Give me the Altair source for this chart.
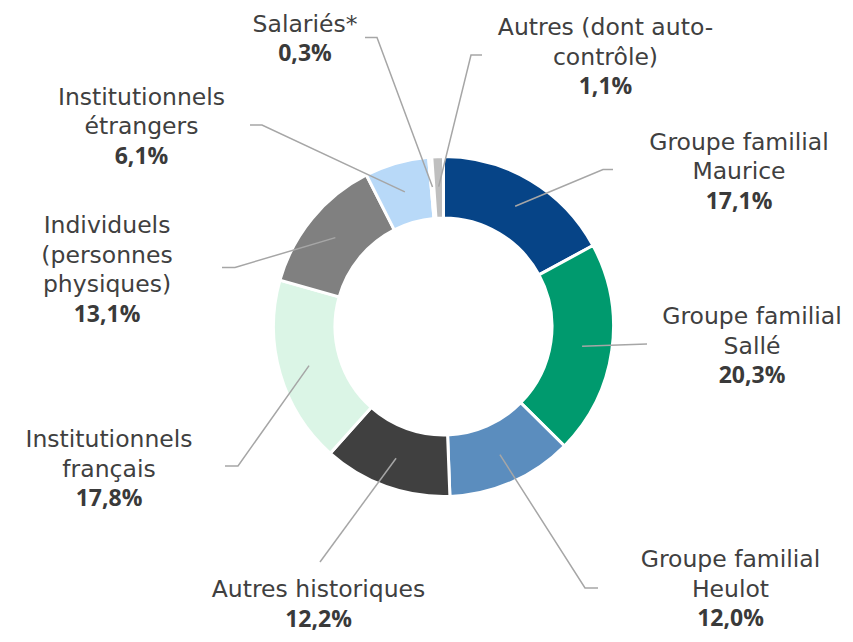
import math
import altair as alt
import pandas as pd

# ---------------- data ----------------
names = ["Groupe familial Maurice", "Groupe familial Sallé", "Groupe familial Heulot",
         "Autres historiques", "Institutionnels français", "Individuels (personnes physiques)",
         "Institutionnels étrangers", "Salariés*", "Autres (dont auto-contrôle)"]
label_lines = [["Groupe familial", "Maurice"], ["Groupe familial", "Sallé"],
               ["Groupe familial", "Heulot"], ["Autres historiques"],
               ["Institutionnels", "français"], ["Individuels", "(personnes", "physiques)"],
               ["Institutionnels", "étrangers"], ["Salariés*"], ["Autres (dont auto-", "contrôle)"]]
values = [17.1, 20.3, 12.0, 12.2, 17.8, 13.1, 6.1, 0.3, 1.1]
pct_labels = ["17,1%", "20,3%", "12,0%", "12,2%", "17,8%", "13,1%", "6,1%", "0,3%", "1,1%"]

# ---------------- style / layout ----------------
colors = ["#064487", "#009a6e", "#5b8dbe", "#404040", "#dbf5e6", "#808080",
          "#b8d9f8", "#d9d9d9", "#bfbfbf"]
W, H = 837, 626
CX, CY = 443.5, 326.5          # page coordinates of donut centre
R_OUT, R_IN, R_LEAD = 170, 108.5, 140
LINE_H = 29.5
FONT = "DejaVu Sans"
FS = 23.5
PCT_FONT = "Open Sans"
PCT_FS = 23
label_pos = [(739, 149.5), (752, 324), (730.5, 567), (318.5, 597), (109, 447),
             (107, 233), (141.5, 104.5), (305, 31.5), (605.5, 35)]
leader_elbow = [(603, 169.5), (647, 344), (585, 588), (320, 562), (238, 466),
                (235, 267.5), (262, 125), (377, 37.5), (471, 55)]
leader_end = [(613, 169.5), (647, 344), (598, 588), (320, 562), (225, 466),
              (222, 267.5), (250, 125), (365, 37.5), (482, 55)]

# ---------------- tables ----------------
total = sum(values)
slices = pd.DataFrame({"name": names, "value": values, "idx": list(range(len(names)))})

line_rows, text_rows, pct_rows = [], [], []
cum = 0.0
for i, v in enumerate(values):
    mid = (cum + v / 2) / total * 2 * math.pi
    cum += v
    sx = CX + R_LEAD * math.sin(mid)
    sy = CY - R_LEAD * math.cos(mid)
    pts = [(sx, sy), leader_elbow[i], leader_end[i]]
    for k, (px, py) in enumerate(pts):
        line_rows.append({"seg": i, "ord": k, "x": px, "y": py})
    lx, ly = label_pos[i]
    text_rows.append({"x": lx, "y": ly, "txt": "\n".join(label_lines[i])})
    pct_rows.append({"x": lx, "y": ly + LINE_H * len(label_lines[i]), "txt": pct_labels[i]})

lines_df = pd.DataFrame(line_rows)
text_df = pd.DataFrame(text_rows)
pct_df = pd.DataFrame(pct_rows)

xs = alt.Scale(domain=[8, 8 + W], range=[0, W])
ys = alt.Scale(domain=[8, 8 + H], range=[0, H])

donut = alt.Chart(slices).mark_arc(
    outerRadius=R_OUT, innerRadius=R_IN, stroke="white", strokeWidth=3
).encode(
    theta=alt.Theta("value:Q", stack=True),
    order=alt.Order("idx:Q"),
    color=alt.Color("name:N", scale=alt.Scale(domain=names, range=colors), legend=None),
    x=alt.value(CX - 8),
    y=alt.value(CY - 8),
)

leaders = alt.Chart(lines_df).mark_line(color="#a6a6a6", strokeWidth=1.5).encode(
    x=alt.X("x:Q", scale=xs, axis=None),
    y=alt.Y("y:Q", scale=ys, axis=None),
    detail="seg:N",
    order="ord:Q",
)

labels = alt.Chart(text_df).mark_text(
    font=FONT, fontSize=FS, color="#404040", align="center", baseline="alphabetic",
    lineBreak="\n", lineHeight=LINE_H
).encode(
    x=alt.X("x:Q", scale=xs, axis=None),
    y=alt.Y("y:Q", scale=ys, axis=None),
    text="txt:N",
)

pcts = alt.Chart(pct_df).mark_text(
    font=PCT_FONT, fontSize=PCT_FS, fontWeight="bold", color="#3a3a3a", align="center",
    baseline="alphabetic"
).encode(
    x=alt.X("x:Q", scale=xs, axis=None),
    y=alt.Y("y:Q", scale=ys, axis=None),
    text="txt:N",
)

chart = alt.layer(donut, leaders, labels, pcts).properties(
    width=W, height=H, autosize=alt.AutoSizeParams(type="none"), padding=0
).configure_view(stroke=None)

chart.save("out.html", embed_options={"renderer": "svg", "actions": False})
